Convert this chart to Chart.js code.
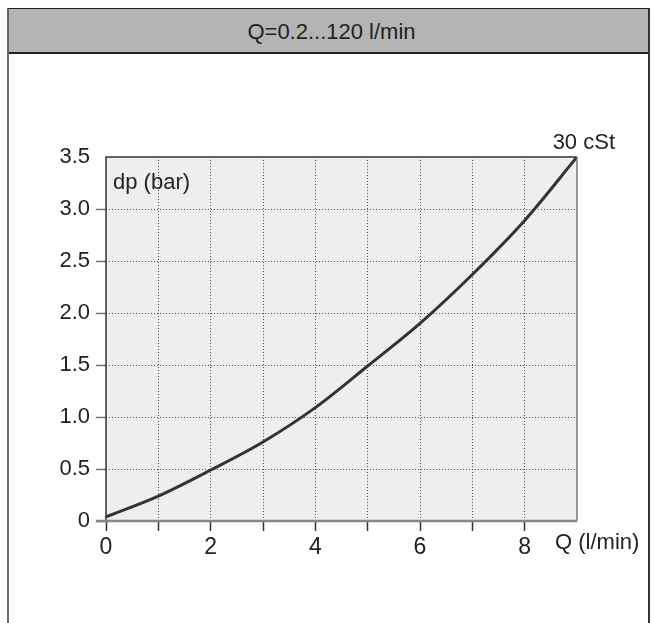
<!DOCTYPE html>
<html>
<head>
<meta charset="utf-8">
<script src="https://cdn.jsdelivr.net/npm/chart.js@4/dist/chart.umd.min.js"></script>
<style>
  html, body { margin: 0; padding: 0; background: #fff; }
  body { width: 653px; height: 623px; position: relative; overflow: hidden; font-family: "Liberation Sans", Arial, sans-serif; }
  #frame { position: absolute; left: 7px; top: 8px; width: 639px; height: 620px; border-left: 2px solid #666; border-right: 2px solid #333; border-top: 1px solid #222; }
  #header { height: 43px; background: #b4b4b4; border-bottom: 2px solid #222; text-align: center; line-height: 45px; font-size: 22px; color: #222; padding-left: 6px; }
  #chart { position: absolute; left: 0; top: 0; }
</style>
</head>
<body>
<div id="frame"><div id="header">Q=0.2...120 l/min</div></div>
<canvas id="chart" width="653" height="623"></canvas>
<script>
const flowValues = [0, 1, 2, 3, 4, 5, 6, 7, 8, 9];
const dpValues = [0.04, 0.24, 0.49, 0.76, 1.09, 1.49, 1.90, 2.37, 2.89, 3.5];
const xLabelValues = [0, 2, 4, 6, 8];
const yMax = 3.5;
const xMax = 9;
const yAxisLabel = "dp (bar)";
const xAxisLabel = "Q (l/min)";
const curveLabel = "30 cSt";

const fontFamily = '"Liberation Sans", Arial, sans-serif';
const labelFont = "22px " + fontFamily;

const plotFrame = {
  id: "plotFrame",
  beforeDraw(chart) {
    const { ctx, chartArea: a } = chart;
    ctx.save();
    ctx.fillStyle = "#eeeeee";
    ctx.fillRect(a.left, a.top, a.right - a.left, a.bottom - a.top);
    ctx.restore();
  },
  afterDatasetsDraw(chart) {
    const { ctx, chartArea: a } = chart;
    ctx.save();
    ctx.lineWidth = 1.5;
    ctx.strokeStyle = "#333";
    ctx.beginPath();
    ctx.moveTo(a.left, a.bottom);
    ctx.lineTo(a.left, a.top);
    ctx.lineTo(a.right, a.top);
    ctx.stroke();
    ctx.strokeStyle = "#777";
    ctx.beginPath();
    ctx.moveTo(a.right, a.top);
    ctx.lineTo(a.right, a.bottom);
    ctx.stroke();
    // bottom axis line, running out past the y ticks
    ctx.lineWidth = 2.5;
    ctx.strokeStyle = "#888";
    ctx.beginPath();
    ctx.moveTo(a.left - 10, a.bottom);
    ctx.lineTo(a.right, a.bottom);
    ctx.stroke();

    ctx.fillStyle = "#222";
    ctx.font = labelFont;
    ctx.textBaseline = "alphabetic";
    ctx.textAlign = "left";
    ctx.fillText(yAxisLabel, a.left + 7, a.top + 32);
    ctx.fillText(xAxisLabel, a.right - 22, a.bottom + 28);
    ctx.textAlign = "right";
    ctx.fillText(curveLabel, a.right + 38, a.top - 8);
    ctx.restore();
  },
};

new Chart(document.getElementById("chart"), {
  type: "line",
  data: {
    datasets: [
      {
        label: curveLabel,
        data: flowValues.map((q, i) => ({ x: q, y: dpValues[i] })),
        borderColor: "#333",
        borderWidth: 3,
        pointRadius: 0,
        cubicInterpolationMode: "monotone",
        fill: false,
      },
    ],
  },
  options: {
    responsive: false,
    animation: false,
    layout: { padding: { top: 157, right: 76, left: 0, bottom: 0 } },
    plugins: { legend: { display: false }, tooltip: { enabled: false } },
    scales: {
      x: {
        type: "linear",
        min: 0,
        max: xMax,
        afterFit: (scale) => { scale.height = 102; },
        ticks: {
          stepSize: 1,
          autoSkip: false,
          maxRotation: 0,
          padding: 3,
          color: "#222",
          font: { family: fontFamily, size: 23 },
          callback: (v) => (xLabelValues.includes(v) ? String(v) : ""),
        },
        grid: {
          color: (c) => (c.tick && (c.tick.value === 0 || c.tick.value === xMax) ? "transparent" : "#555"),
          lineWidth: 1,
          drawTicks: true,
          tickLength: 10,
          tickWidth: 1.5,
          tickColor: (c) => (c.tick && c.tick.value === xMax ? "transparent" : "#333"),
          tickBorderDash: [],
        },
        border: { display: false, dash: [1, 2] },
      },
      y: {
        min: 0,
        max: yMax,
        afterFit: (scale) => { scale.width = 106; },
        ticks: {
          stepSize: 0.5,
          padding: 6,
          color: "#222",
          font: { family: fontFamily, size: 22 },
          callback: (v) => (v === 0 ? "0" : v.toFixed(1)),
        },
        grid: {
          color: (c) => (c.tick && (c.tick.value === 0 || c.tick.value === yMax) ? "transparent" : "#555"),
          lineWidth: 1,
          drawTicks: true,
          tickLength: 10,
          tickWidth: 1.5,
          tickColor: (c) => (c.tick && c.tick.value === yMax ? "transparent" : "#777"),
          tickBorderDash: [],
        },
        border: { display: false, dash: [1, 2] },
      },
    },
  },
  plugins: [plotFrame],
});
</script>
</body>
</html>
